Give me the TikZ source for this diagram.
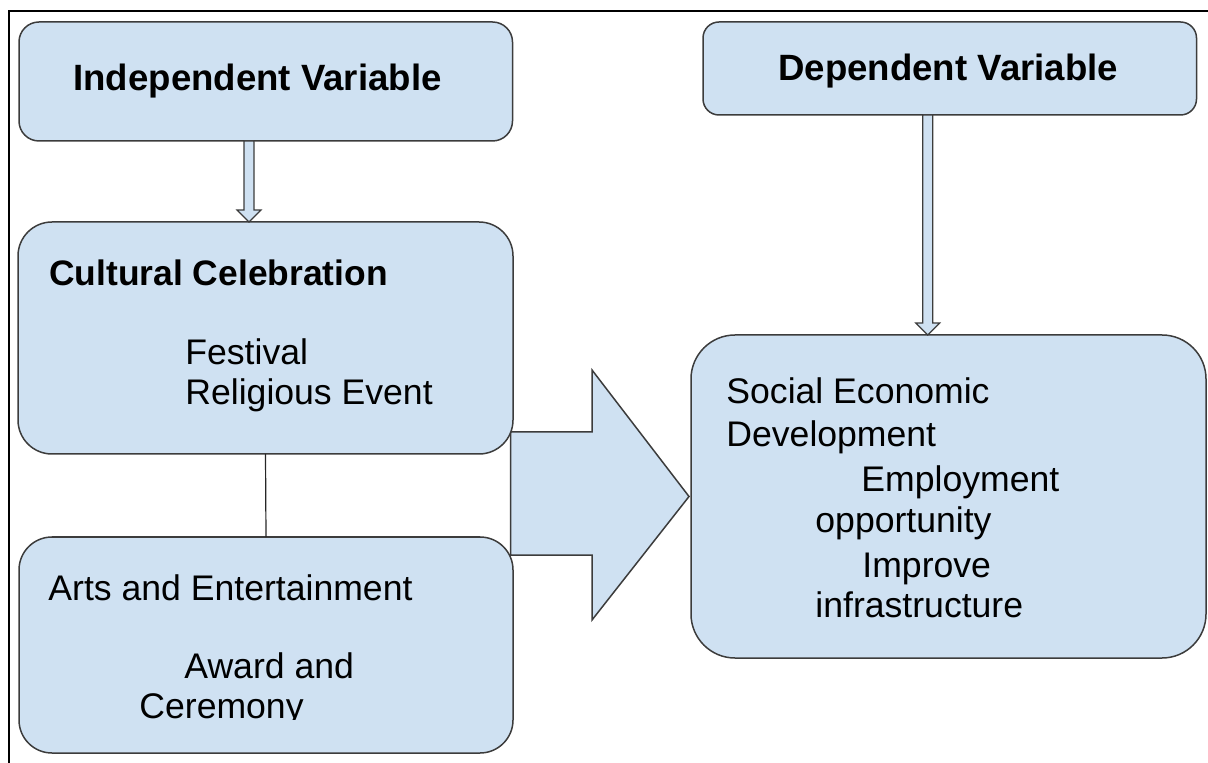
\documentclass[tikz,border=0pt]{standalone}
\usepackage{fontspec}
\setmainfont{Liberation Sans}
\usetikzlibrary{calc,backgrounds}
\definecolor{boxfill}{RGB}{207,225,242}
\definecolor{boxline}{RGB}{60,60,60}
\tikzset{
  box/.style={draw=boxline, fill=boxfill, line width=0.75pt, inner sep=0pt, outer sep=0pt},
  head/.style={font=\fontsize{18.3}{22}\selectfont\bfseries, inner sep=0pt, anchor=base west},
  body/.style={font=\fontsize{17.8}{22}\selectfont, inner sep=0pt, anchor=base west},
  hollow/.style={draw=boxline, fill=boxfill, line width=0.6pt, line join=miter},
}
% hollow block arrow going down from #1 to #2, shifted horizontally by #3
\newcommand\hollowdown[3]{%
  \coordinate (hs) at ($(#1)+(#3,0)$);
  \coordinate (ht) at (hs |- #2);
  \draw[hollow] ($(hs)+(-5,0)$) -- ($(ht)+(-5,-12)$) -- ($(ht)+(-12,-12)$)
    -- (ht) -- ($(ht)+(12,-12)$) -- ($(ht)+(5,-12)$) -- ($(hs)+(5,0)$) -- cycle;
}
\begin{document}
\begin{tikzpicture}[x=0.5pt,y=-0.5pt]
\useasboundingbox (0,0) rectangle (1208,763);
\draw[line width=1pt] (9,763) -- (9,11) -- (1208,11);

% boxes
\node[box, rounded corners=10pt, minimum width=246.75pt, minimum height=59.5pt] (ind) at (265.75,81.5) {};
\node[box, rounded corners=8pt, minimum width=246.75pt, minimum height=46.5pt] (dep) at (949.75,68.5) {};
\node[box, rounded corners=17pt, minimum width=247.5pt, minimum height=116pt] (cult) at (265.5,338) {};
\node[box, rounded corners=16.5pt, minimum width=247pt, minimum height=108pt] (arts) at (266,645) {};
\node[box, rounded corners=22pt, minimum width=257.5pt, minimum height=161.5pt] (soc) at (948.5,496.5) {};

% big block arrow behind the boxes
\begin{pgfonlayer}{background}
\draw[hollow, line width=0.75pt] (510.5,432) -- (592,432) -- (592,370)
  -- ($(soc.west)+(-2,0)$) -- (592,620) -- (592,555) -- (510.5,555) -- cycle;
\end{pgfonlayer}

% connectors
\hollowdown{ind.south}{cult.north}{-16.75}
\hollowdown{dep.south}{soc.north}{-22}
\draw[line width=0.6pt, black!85] (cult.south) -- (arts.north);

% texts
\node[head] (indtxt) at (73,91) {Independent Variable};
\node[head] (deptxt) at (778,81) {Dependent Variable};
\node[head, font=\fontsize{17.7}{22}\selectfont\bfseries] (culttxt) at (49,286) {Cultural Celebration};
\node[body] (fest) at (185,365) {Festival};
\node[body] (relig) at (185,405) {Religious Event};
\node[body] (artstxt) at (48,600) {Arts and Entertainment};
\node[body] (award) at (184,678) {Award and};
\begin{scope}
  \clip (120,660) rectangle (420,719);
  \node[body] (cerem) at (139,718) {Ceremony};
\end{scope}
\node[body] (socl1) at (726,404) {Social Economic};
\node[body] (socl2) at (726,447) {Development};
\node[body] (emp) at (861,492) {Employment};
\node[body] (opp) at (815,532) {opportunity};
\node[body] (impr) at (862,577) {Improve};
\node[body] (infra) at (815,617) {infrastructure};
\end{tikzpicture}
\end{document}
